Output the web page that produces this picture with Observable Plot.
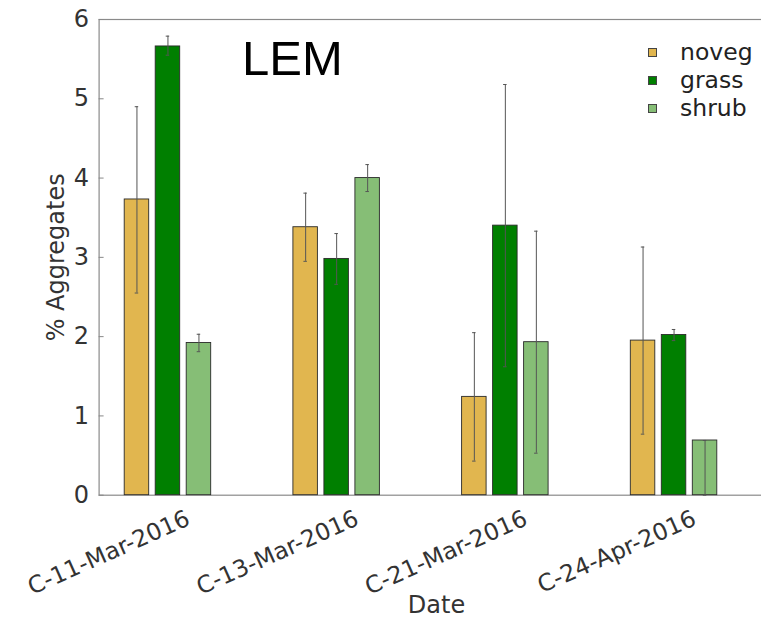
<!DOCTYPE html>
<html>
<head>
<meta charset="utf-8">
<script src="https://cdn.jsdelivr.net/npm/d3@7"></script>
<script src="https://cdn.jsdelivr.net/npm/@observablehq/plot@0.6"></script>
<style>
  html, body { margin: 0; padding: 0; background: #fff; overflow: hidden; }
  #wrap { position: relative; width: 761px; height: 619px; overflow: hidden; font-family: "DejaVu Sans", sans-serif; }
  #wrap svg { position: absolute; left: 0; top: 0; max-width: none !important; }
  #wrap svg g[aria-label="y-axis label"] text, #wrap svg g[aria-label="fx-axis label"] text { font-size: 24px; }
  #legend { position: absolute; left: 648px; top: 38px; font-size: 23.5px; color: #222; line-height: 28px; }
  #legend .row { display: flex; align-items: center; }
  #legend .sw { width: 7px; height: 7px; border: 1px solid #444; margin-right: 23px; }
</style>
</head>
<body>
<div id="wrap"><div id="legend"></div></div>
<script>
const dates = ["C-11-Mar-2016", "C-13-Mar-2016", "C-21-Mar-2016", "C-24-Apr-2016"];
const series = ["noveg", "grass", "shrub"];
const colors = ["#E1B64F", "#007F00", "#86BE76"];
const yTicks = [0, 1, 2, 3, 4, 5, 6];

const noveg = [3.73, 3.38, 1.24, 1.95];
const grass = [5.66, 2.98, 3.40, 2.02];
const shrub = [1.92, 4.00, 1.93, 0.69];

const novegLo = [2.55, 2.95, 0.43, 0.77];
const novegHi = [4.90, 3.81, 2.05, 3.13];
const grassLo = [5.55, 2.66, 1.62, 1.95];
const grassHi = [5.79, 3.30, 5.18, 2.09];
const shrubLo = [1.81, 3.83, 0.53, 0.00];
const shrubHi = [2.03, 4.17, 3.33, 0.69];

const values = {noveg, grass, shrub};
const lows = {noveg: novegLo, grass: grassLo, shrub: shrubLo};
const highs = {noveg: novegHi, grass: grassHi, shrub: shrubHi};

const data = [];
series.forEach(s => dates.forEach((d, i) => {
  data.push({date: d, series: s, value: values[s][i], lo: lows[s][i], hi: highs[s][i]});
}));

const chart = Plot.plot({
  width: 774,
  height: 619,
  marginLeft: 98.6,
  marginRight: 0.6,
  marginTop: 19,
  marginBottom: 124.3,
  style: {fontFamily: "DejaVu Sans, sans-serif", background: "transparent", maxWidth: "none"},
  fx: {domain: dates, paddingInner: 0, paddingOuter: 0, round: false},
  x: {domain: [...series, "(none)"], paddingInner: 0.21, paddingOuter: 0.826, round: false, axis: null},
  y: {domain: [0, 6], axis: null},
  color: {domain: series, range: colors},
  marks: [
    Plot.frame({stroke: "#8a8a8a", strokeWidth: 1.2, facet: "super"}),
    Plot.axisY({
      ticks: yTicks, tickFormat: d => String(d), tickSize: -5, tickPadding: 15, fontSize: 24, fill: "#333", stroke: "#888",
      label: "% Aggregates", labelAnchor: "center", labelOffset: 52, labelArrow: false
    }),
    Plot.axisFx({
      anchor: "bottom", tickSize: 0, tickPadding: 22, tickRotate: -24, fontSize: 23.5, fill: "#333", dx: 5,
      label: "Date", labelAnchor: "center", labelOffset: 118, labelArrow: false
    }),
    Plot.barY(data, {fx: "date", x: "series", y: "value", fill: "series", stroke: "#2a2a2a", strokeWidth: 0.9}),
    Plot.ruleX(data, {fx: "date", x: "series", y1: "lo", y2: "hi", stroke: "#555", strokeWidth: 1}),
    Plot.tickY(data, {fx: "date", x: "series", y: "lo", stroke: "#555", strokeWidth: 1, insetLeft: 10.5, insetRight: 10.5}),
    Plot.tickY(data, {fx: "date", x: "series", y: "hi", stroke: "#555", strokeWidth: 1, insetLeft: 10.5, insetRight: 10.5}),
    Plot.text(["LEM"], {facet: "super", frameAnchor: "top-left", dx: 143, dy: 21, lineAnchor: "top", textAnchor: "start",
      fontSize: 49, fill: "#000", fontFamily: "Liberation Sans, Arial, sans-serif"})
  ]
});

const wrap = document.getElementById("wrap");
wrap.insertBefore(chart, wrap.firstChild);

const legend = document.getElementById("legend");
series.forEach((s, i) => {
  const row = document.createElement("div");
  row.className = "row";
  const sw = document.createElement("span");
  sw.className = "sw";
  sw.style.background = colors[i];
  const t = document.createElement("span");
  t.textContent = s;
  row.appendChild(sw);
  row.appendChild(t);
  legend.appendChild(row);
});
</script>
</body>
</html>
